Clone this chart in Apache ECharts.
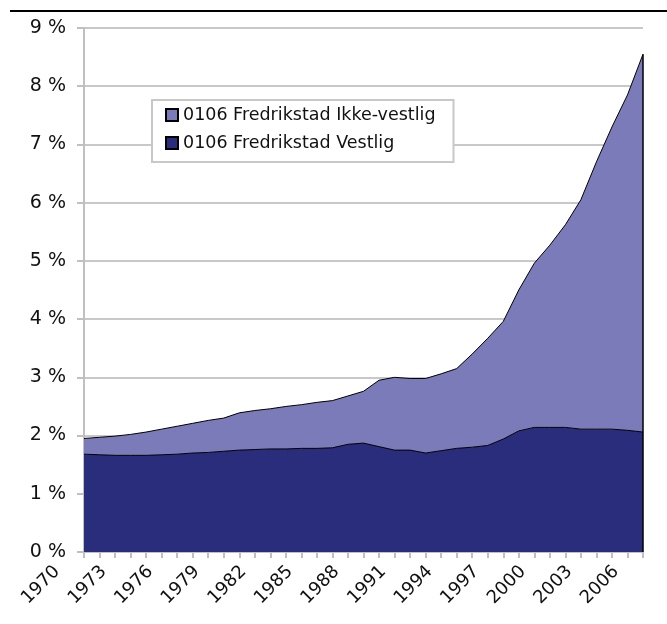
<!DOCTYPE html>
<html>
<head>
<meta charset="utf-8">
<script src="https://cdn.jsdelivr.net/npm/echarts@6/dist/echarts.min.js"></script>
<style>
html,body{margin:0;padding:0;background:#fff;}
#chart{width:667px;height:624px;}
</style>
</head>
<body>
<div id="chart"></div>
<script>
const years = ['1970','1971','1972','1973','1974','1975','1976','1977','1978','1979',
  '1980','1981','1982','1983','1984','1985','1986','1987','1988','1989',
  '1990','1991','1992','1993','1994','1995','1996','1997','1998','1999',
  '2000','2001','2002','2003','2004','2005','2006'];
const vestlig = [1.68,1.67,1.66,1.66,1.66,1.67,1.68,1.70,1.71,1.73,
  1.75,1.76,1.77,1.77,1.78,1.78,1.79,1.85,1.87,1.81,
  1.75,1.75,1.70,1.74,1.78,1.80,1.83,1.94,2.08,2.14,
  2.14,2.14,2.11,2.11,2.11,2.09,2.06];
const ikkeVestlig = [0.27,0.30,0.33,0.36,0.40,0.44,0.48,0.51,0.55,0.57,
  0.64,0.67,0.69,0.73,0.75,0.79,0.81,0.83,0.89,1.14,
  1.25,1.23,1.28,1.32,1.37,1.60,1.84,2.02,2.42,2.82,
  3.13,3.48,3.94,4.59,5.19,5.76,6.49];
const nameIkke = '0106 Fredrikstad Ikke-vestlig';
const nameVest = '0106 Fredrikstad Vestlig';

const FONT = 'DejaVu Sans';
const chart = echarts.init(document.getElementById('chart'), null, {renderer:'canvas'});
const lastIdx = years.length - 1;
chart.setOption({
  animation: false,
  backgroundColor: '#fff',
  textStyle: {fontFamily: FONT},
  graphic: [{
    type: 'line', shape: {x1: 10, y1: 11, x2: 667, y2: 11},
    style: {stroke: '#000', lineWidth: 2}
  }],
  legend: {
    orient: 'vertical',
    left: 152, top: 100,
    padding: [6, 18, 10, 13],
    backgroundColor: '#fff',
    borderColor: '#c8c8c8', borderWidth: 2,
    itemWidth: 12, itemHeight: 12, itemGap: 10,
    icon: 'rect',
    data: [nameIkke, nameVest],
    textStyle: {fontSize: 17.5, color: '#111', fontFamily: FONT}
  },
  grid: {left: 84, right: 24, top: 28, bottom: 72, containLabel: false},
  xAxis: {
    type: 'category', data: years, boundaryGap: false,
    axisLine: {lineStyle: {color: '#c0c0c0', width: 2}},
    axisTick: {show: true, interval: 0, length: 6, lineStyle: {color: '#c0c0c0', width: 2}},
    axisLabel: {interval: 2, rotate: 45, fontSize: 18, color: '#111', margin: -10,
      fontFamily: FONT, padding: [0, 38, 28, 0]},
    splitLine: {show: false}
  },
  yAxis: {
    type: 'value', min: 0, max: 9, interval: 1,
    axisLine: {show: true, lineStyle: {color: '#c0c0c0', width: 2}},
    axisTick: {show: true, length: 7, lineStyle: {color: '#c0c0c0', width: 2}},
    axisLabel: {formatter: '{value} %', fontSize: 19, color: '#111', margin: 18, fontFamily: FONT},
    splitLine: {show: true, lineStyle: {color: '#c8c8c8', width: 2}}
  },
  series: [
    {
      name: nameVest, type: 'line', stack: 'total', data: vestlig,
      symbol: 'none', z: 3,
      lineStyle: {color: '#000', width: 1},
      itemStyle: {color: '#2a2c7c', borderColor: '#000', borderWidth: 1},
      areaStyle: {color: '#2a2c7c', opacity: 1}
    },
    {
      name: nameIkke, type: 'line', stack: 'total', data: ikkeVestlig,
      symbol: 'none', z: 2,
      lineStyle: {color: '#000', width: 1},
      itemStyle: {color: '#7b7bba', borderColor: '#000', borderWidth: 1},
      areaStyle: {color: '#7b7bba', opacity: 1},
      markLine: {
        silent: true, symbol: 'none', label: {show: false},
        lineStyle: {color: '#000', width: 1.5, type: 'solid'},
        data: [[{coord: [years[lastIdx], 0]}, {coord: [years[lastIdx], vestlig[lastIdx] + ikkeVestlig[lastIdx]]}]]
      }
    }
  ]
});
</script>
</body>
</html>
